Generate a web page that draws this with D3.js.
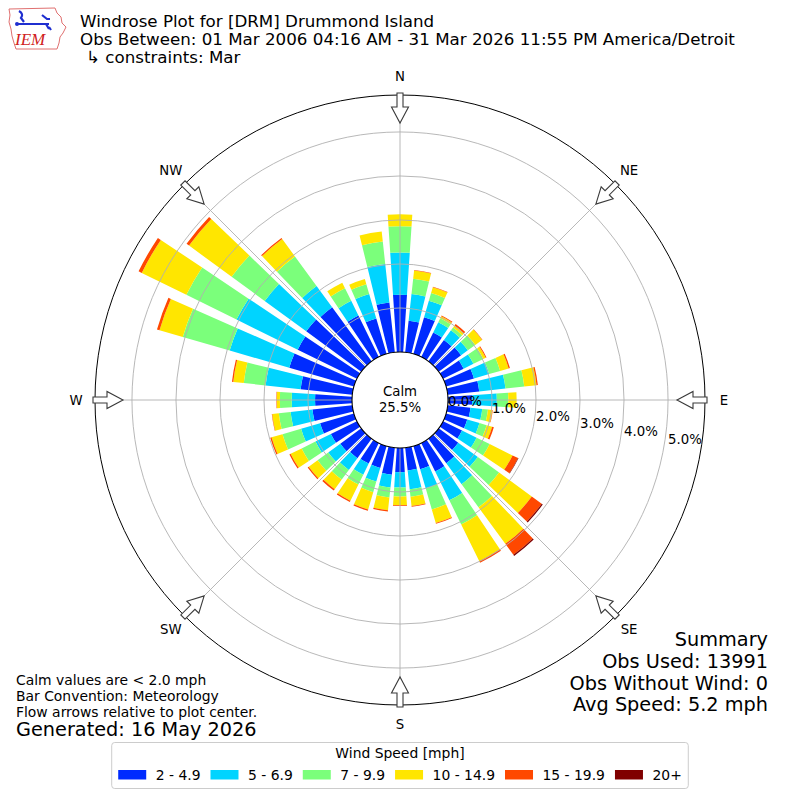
<!DOCTYPE html>
<html lang="es">
<head>
<meta charset="utf-8">
<title>Windrose DRM</title>
<script src="https://cdn.jsdelivr.net/npm/d3@7"></script>
<style>
    body { margin: 0; background: #ffffff; }
    #contenedorRosa svg { display: block; font-family: "DejaVu Sans", sans-serif; }
</style>
</head>
<body>
<div id="contenedorRosa"></div>
<script>
// datos (porcentaje de observaciones por direccion)
const direcciones = [0, 10, 20, 30, 40, 50, 60, 70, 80, 90, 100, 110, 120, 130, 140, 150, 160, 170,
    180, 190, 200, 210, 220, 230, 240, 250, 260, 270, 280, 290, 300, 310, 320, 330, 340, 350];
const velocidad2a5 = [1.30, 0.72, 0.87, 0.62, 0.60, 0.63, 0.52, 0.66, 0.72, 0.55, 0.52, 0.50, 0.48, 0.55, 0.69, 0.72, 0.55, 0.52,
    0.55, 0.62, 0.52, 0.52, 0.55, 0.59, 0.66, 0.80, 0.91, 0.84, 1.18, 1.53, 1.50, 1.55, 1.52, 1.05, 0.84, 1.14];
const velocidad5a7 = [0.96, 0.61, 0.39, 0.26, 0.27, 0.19, 0.25, 0.36, 0.60, 0.56, 0.27, 0.29, 0.37, 0.55, 0.59, 0.73, 0.45, 0.43,
    0.35, 0.29, 0.32, 0.28, 0.33, 0.34, 0.39, 0.45, 0.50, 0.53, 0.80, 1.41, 1.55, 1.17, 0.60, 0.37, 0.58, 0.88];
const velocidad7a10 = [0.60, 0.35, 0.18, 0.10, 0.08, 0.21, 0.25, 0.26, 0.43, 0.26, 0.13, 0.17, 0.33, 0.60, 0.65, 0.61, 0.50, 0.17,
    0.20, 0.23, 0.25, 0.25, 0.27, 0.30, 0.35, 0.44, 0.27, 0.27, 0.50, 1.11, 1.27, 0.93, 0.83, 0.32, 0.23, 0.51];
const velocidad10a15 = [0.27, 0.19, 0.14, 0.05, 0.06, 0.19, 0.06, 0.20, 0.28, 0.19, 0.10, 0.13, 0.58, 0.92, 1.03, 0.93, 0.32, 0.21,
    0.20, 0.29, 0.41, 0.41, 0.27, 0.25, 0.28, 0.26, 0.15, 0.07, 0.24, 0.55, 1.13, 1.20, 0.49, 0.14, 0.12, 0.23];
const velocidad15a20 = [0.00, 0.01, 0.01, 0.02, 0.04, 0.01, 0.02, 0.03, 0.03, 0.00, 0.01, 0.04, 0.14, 0.28, 0.31, 0.04, 0.02, 0.02,
    0.02, 0.03, 0.03, 0.03, 0.04, 0.03, 0.03, 0.03, 0.01, 0.01, 0.03, 0.06, 0.08, 0.07, 0.03, 0.00, 0.00, 0.00];
const velocidad20mas = [0, 0, 0, 0, 0, 0, 0, 0, 0, 0, 0, 0, 0.01, 0.03, 0.03, 0, 0, 0,
    0, 0, 0, 0, 0, 0, 0, 0, 0, 0, 0, 0, 0, 0, 0, 0, 0, 0];

const etiquetasClases = ["2 - 4.9", "5 - 6.9", "7 - 9.9", "10 - 14.9", "15 - 19.9", "20+"];
const coloresClases = ["#002bff", "#00d4ff", "#7bff7b", "#ffe600", "#ff4800", "#800000"];
const anillos = [0, 1, 2, 3, 4, 5];
const puntosCardinales = [
    { nombre: "N", angulo: 0 }, { nombre: "NE", angulo: 45 }, { nombre: "E", angulo: 90 }, { nombre: "SE", angulo: 135 },
    { nombre: "S", angulo: 180 }, { nombre: "SW", angulo: 225 }, { nombre: "W", angulo: 270 }, { nombre: "NW", angulo: 315 }
];
const calma = "25.5%";
const titulo = [
    "Windrose Plot for [DRM] Drummond Island",
    "Obs Between: 01 Mar 2006 04:16 AM - 31 Mar 2026 11:55 PM America/Detroit",
    "\u21b3 constraints: Mar"
];
const notas = ["Calm values are < 2.0 mph", "Bar Convention: Meteorology", "Flow arrows relative to plot center."];
const resumen = ["Summary", "Obs Used: 13991", "Obs Without Wind: 0", "Avg Speed: 5.2 mph"];

const rosa = () => {
    const ancho = 800, alto = 800;
    const centroX = 400, centroY = 400;
    const radioCalma = 48;
    const radioExterior = 305;
    const radioEtiquetas = 324;
    const anchoBarra = 7.6; // grados
    const gris = "#b0b0b0";

    const $svg = d3.select("#contenedorRosa")
        .append("svg")
        .attr("width", ancho)
        .attr("height", alto);

    const escalaRadio = d3.scaleLinear().domain([0, 5.84]).range([radioCalma, radioExterior]);
    const escalaAngulo = d3.scaleLinear().domain([0, 360]).range([0, 2 * Math.PI]);

    const claves = ["c0", "c1", "c2", "c3", "c4", "c5"];
    const filas = direcciones.map((d, i) => ({
        direccion: d,
        c0: velocidad2a5[i],
        c1: velocidad5a7[i],
        c2: velocidad7a10[i],
        c3: velocidad10a15[i],
        c4: velocidad15a20[i],
        c5: velocidad20mas[i]
    }));
    const pilas = d3.stack().keys(claves)(filas);

    const $rosa = $svg.append("g")
        .attr("transform", `translate(${centroX},${centroY})`);

    const arco = d3.arc()
        .innerRadius(d => escalaRadio(d[0]))
        .outerRadius(d => escalaRadio(d[1]))
        .startAngle(d => escalaAngulo(d.data.direccion - anchoBarra / 2))
        .endAngle(d => escalaAngulo(d.data.direccion + anchoBarra / 2));

    $rosa.selectAll("g.clase")
        .data(pilas)
        .join("g")
        .attr("class", "clase")
        .attr("fill", (d, i) => coloresClases[i])
        .selectAll("path")
        .data(d => d.filter(s => s[1] > s[0]))
        .join("path")
        .attr("d", arco);

    // rejilla por encima de las barras
    $rosa.selectAll("circle.anillo")
        .data(anillos.slice(1))
        .join("circle")
        .attr("class", "anillo")
        .attr("r", d => escalaRadio(d))
        .attr("fill", "none")
        .attr("stroke", gris)
        .attr("stroke-width", 0.9);

    const punto = (angulo, r) => [r * Math.sin(escalaAngulo(angulo)), -r * Math.cos(escalaAngulo(angulo))];

    $rosa.selectAll("line.radial")
        .data(puntosCardinales)
        .join("line")
        .attr("class", "radial")
        .attr("x1", d => punto(d.angulo, radioCalma)[0])
        .attr("y1", d => punto(d.angulo, radioCalma)[1])
        .attr("x2", d => punto(d.angulo, radioExterior)[0])
        .attr("y2", d => punto(d.angulo, radioExterior)[1])
        .attr("stroke", gris)
        .attr("stroke-width", 0.9);

    $rosa.append("circle")
        .attr("r", radioExterior)
        .attr("fill", "none")
        .attr("stroke", "#000")
        .attr("stroke-width", 1);

    $rosa.append("circle")
        .attr("r", radioCalma)
        .attr("fill", "#fff")
        .attr("stroke", "#000")
        .attr("stroke-width", 1.1);

    // flechas huecas hacia el centro
    const flecha = angulo => {
        const a = escalaAngulo(angulo);
        const p = (u, v) => [u * Math.sin(a) + v * Math.cos(a), -u * Math.cos(a) + v * Math.sin(a)];
        const base = radioExterior + 2, cuello = radioExterior - 12, punta = radioExterior - 28;
        return d3.line()([
            p(base, -3), p(cuello, -3), p(cuello, -8.5), p(punta, 0),
            p(cuello, 8.5), p(cuello, 3), p(base, 3)
        ]) + "Z";
    };
    $rosa.selectAll("path.flecha")
        .data(puntosCardinales)
        .join("path")
        .attr("class", "flecha")
        .attr("d", d => flecha(d.angulo))
        .attr("fill", "#fff")
        .attr("stroke", "#3a3a3a")
        .attr("stroke-width", 1.1);

    $rosa.selectAll("text.cardinal")
        .data(puntosCardinales)
        .join("text")
        .attr("class", "cardinal")
        .attr("x", d => punto(d.angulo, radioEtiquetas)[0])
        .attr("y", d => punto(d.angulo, radioEtiquetas)[1])
        .attr("font-size", 13.3)
        .attr("text-anchor", "middle")
        .attr("dominant-baseline", "central")
        .text(d => d.nombre);

    $rosa.selectAll("text.anillo")
        .data(anillos)
        .join("text")
        .attr("class", "anillo")
        .attr("x", d => escalaRadio(d))
        .attr("y", d => (escalaRadio(d) - radioCalma) * 0.173 + 1)
        .attr("font-size", 13.3)
        .attr("dominant-baseline", "central")
        .text(d => `${d.toFixed(1)}%`);

    $rosa.append("text")
        .attr("y", -9)
        .attr("font-size", 13.3)
        .attr("text-anchor", "middle")
        .attr("dominant-baseline", "central")
        .text("Calm");
    $rosa.append("text")
        .attr("y", 7)
        .attr("font-size", 13.3)
        .attr("text-anchor", "middle")
        .attr("dominant-baseline", "central")
        .text(calma);

    // titulo
    $svg.selectAll("text.titulo")
        .data(titulo)
        .join("text")
        .attr("class", "titulo")
        .attr("x", (d, i) => i === 2 ? 86 : 80)
        .attr("y", (d, i) => 26.5 + i * 18.3)
        .attr("font-size", 16.7)
        .text(d => d);

    $svg.selectAll("text.nota")
        .data(notas)
        .join("text")
        .attr("class", "nota")
        .attr("x", 16)
        .attr("y", (d, i) => 684.5 + i * 16)
        .attr("font-size", 13.9)
        .text(d => d);

    $svg.append("text")
        .attr("x", 16)
        .attr("y", 736)
        .attr("font-size", 19.3)
        .text("Generated: 16 May 2026");

    $svg.selectAll("text.resumen")
        .data(resumen)
        .join("text")
        .attr("class", "resumen")
        .attr("x", 768)
        .attr("y", (d, i) => 646 + i * 21.8)
        .attr("font-size", 19.3)
        .attr("text-anchor", "end")
        .text(d => d);

    // leyenda
    const $leyenda = $svg.append("g");
    const marco = $leyenda.append("rect")
        .attr("fill", "#fff")
        .attr("fill-opacity", 0.8)
        .attr("stroke", "#cccccc")
        .attr("stroke-width", 1)
        .attr("rx", 3);
    $leyenda.append("text")
        .attr("x", 400)
        .attr("y", 758)
        .attr("font-size", 13.9)
        .attr("text-anchor", "middle")
        .text("Wind Speed [mph]");

    const anchoMuestra = 28, separacionTexto = 9.5, separacionColumna = 10;
    const $entradas = $leyenda.selectAll("g.entrada")
        .data(etiquetasClases)
        .join("g")
        .attr("class", "entrada");
    $entradas.append("rect")
        .attr("y", 770)
        .attr("width", anchoMuestra)
        .attr("height", 9.5)
        .attr("fill", (d, i) => coloresClases[i]);
    const textos = $entradas.append("text")
        .attr("y", 779.5)
        .attr("font-size", 13.9)
        .text(d => d);
    const anchos = textos.nodes().map(n => n.getComputedTextLength());
    const total = d3.sum(anchos) + etiquetasClases.length * (anchoMuestra + separacionTexto) + (etiquetasClases.length - 1) * separacionColumna;
    let x = 400 - total / 2;
    $entradas.each(function (d, i) {
        d3.select(this).attr("transform", `translate(${x},0)`);
        d3.select(this).select("text").attr("x", anchoMuestra + separacionTexto);
        x += anchoMuestra + separacionTexto + anchos[i] + separacionColumna;
    });
    marco.attr("x", 400 - total / 2 - 6.5)
        .attr("y", 742.5)
        .attr("width", total + 13)
        .attr("height", 46);

    // logo IEM aproximado
    const $logo = $svg.append("g");
    $logo.append("path")
        .attr("d", "M9,9 L55,8 L57,13 L61,17 L62,23 L66,27 L63,33 L60,37 L59,43 L57,49 L16,49 L14,43 L12,36 L11,29 L9,22 L10,15 Z")
        .attr("fill", "none")
        .attr("stroke", "#e07070")
        .attr("stroke-width", 1);
    $logo.append("path")
        .attr("d", "M19,11 Q24,14 21,18 L24,22 M16,24 L49,24 M42,15 L47,19 L50,19 M46,24 L49,29 M49,27 L51,30")
        .attr("fill", "none")
        .attr("stroke", "#1f2fd0")
        .attr("stroke-width", 2.2);
    $logo.append("circle").attr("cx", 17).attr("cy", 24).attr("r", 2).attr("fill", "#1f2fd0");
    $logo.append("text")
        .attr("x", 15)
        .attr("y", 45)
        .attr("font-family", "Liberation Serif, serif")
        .attr("font-style", "italic")
        .attr("font-size", 17)
        .attr("fill", "#d02020")
        .text("IEM");
};

rosa();
</script>
</body>
</html>
